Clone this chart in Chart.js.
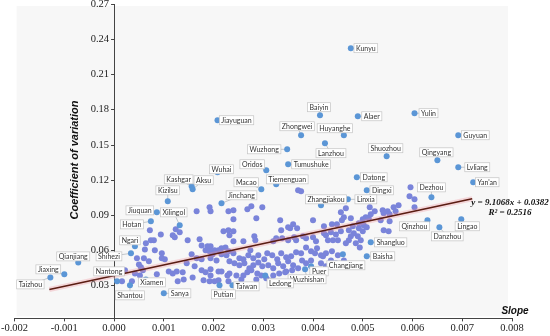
<!DOCTYPE html>
<html><head><meta charset="utf-8">
<script src="https://cdn.jsdelivr.net/npm/chart.js@4/dist/chart.umd.min.js"></script>
<style>html,body{margin:0;padding:0;background:#fff}#wrap{width:550px;height:336px}</style>
</head><body><div id="wrap"><canvas id="c"></canvas></div>
<script>
// ---- data ----
const xTicks = [-0.002,-0.001,0,0.001,0.002,0.003,0.004,0.005,0.006,0.007,0.008];
const yTicks = [0.03,0.06,0.09,0.12,0.15,0.18,0.21,0.24,0.27];
const cloudX = [0.00166,0.00192,0.00194,0.0023,0.00072,0.00094,0.00124,0.00132,0.00118,0.00122,0.00064,0.00074,0.0008,0.00062,0.00082,0.00046,0.0006,0.00096,0.00096,0.00102,0.0007,0.0005,0.00054,0.00172,0.00176,0.00188,0.00194,0.0022,0.0023,0.00232,0.00184,0.00192,0.00202,0.0021,0.00216,0.00224,0.00198,0.00216,0.00226,0.00166,0.00176,0.00194,0.00206,0.0011,0.00118,0.00126,0.00138,0.00158,0.00176,0.00184,0.00194,0.00194,0.0021,0.00216,0.00228,0.0021,0.0018,0.00192,0.00202,0.0023,0.00128,0.00094,0.00076,0.00036,0.00058,0.00042,0.00052,0.0014,
0.0024,0.00268,0.00276,0.00298,0.00286,0.0024,0.00334,0.00354,0.0035,0.0036,0.00368,0.004,0.00458,0.00462,0.00422,0.00438,0.00448,0.00476,0.0024,0.0024,0.0026,0.00282,0.00284,0.00274,0.0032,0.00326,0.00338,0.0035,0.00362,0.00366,0.0038,0.00386,0.004,0.00406,0.00422,0.00426,0.00436,0.00446,0.00456,0.0043,0.0044,0.0045,
0.0023,0.0024,0.00252,0.0026,0.0027,0.0028,0.0029,0.00302,0.00308,0.00318,0.00328,0.00336,0.00346,0.00356,0.00366,0.00376,0.00386,0.00396,0.00408,0.00416,0.00426,0.00438,0.0045,
0.00232,0.00242,0.00252,0.00262,0.00272,0.0028,0.0029,0.00298,0.0031,0.0032,0.0033,0.0034,0.0035,0.0036,0.0037,0.00386,0.00378,
0.00232,0.00246,0.0026,0.00268,0.00276,0.00288,0.00296,0.00306,0.0032,0.00332,0.00346,0.00358,0.00256,0.00286,
0.00404,0.0042,0.00396,0.00416,0.00436,0.00446,0.00426,0.00462,
0.0054,0.00596,0.00594,0.00604,0.00604,0.00572,0.00562,0.00566,0.0055,0.0054,0.00542,0.00554,0.00524,0.00514,0.00516,0.00506,0.005,0.00512,0.00536,0.00554,0.00542,0.00552,0.00492,0.00502,0.00508,0.005,0.00492,0.0048,0.00472,0.00482,0.00476,0.0049,0.00496,0.00486,0.00472,0.00466,0.00494,
0.0037,0.00376,0.00148,0.00156,0.00146,0.00162,0.00086,0.00022,0.00016,0.00456,0.00466,0.00336,0.00344];
const cloudY = [0.0931,0.0965,0.0931,0.0931,0.0769,0.0734,0.0777,0.0752,0.0726,0.0709,0.0658,0.0683,0.0683,0.0606,0.0598,0.053,0.053,0.0572,0.053,0.0521,0.0504,0.0478,0.0453,0.0692,0.064,0.0632,0.0632,0.076,0.0769,0.0726,0.0598,0.0589,0.0598,0.0598,0.0615,0.0623,0.0564,0.0564,0.0555,0.053,0.0521,0.053,0.0512,0.0418,0.0401,0.0418,0.041,0.0367,0.0427,0.041,0.0436,0.0384,0.0418,0.0418,0.0384,0.0342,0.0342,0.0333,0.0333,0.0333,0.0333,0.0333,0.0333,0.0333,0.0427,0.0401,0.0384,0.035,
0.0939,0.0948,0.0974,0.0965,0.0871,0.0863,0.0854,0.0786,0.0794,0.082,0.0786,0.0854,0.0854,0.088,0.0803,0.082,0.082,0.0871,0.076,0.0675,0.0675,0.0717,0.0683,0.0598,0.0675,0.07,0.07,0.0683,0.0709,0.0683,0.0717,0.07,0.0709,0.0675,0.0743,0.0726,0.0752,0.0734,0.076,0.0683,0.0683,0.0683,
0.0589,0.0572,0.053,0.0521,0.0555,0.053,0.0555,0.0521,0.0572,0.0555,0.0521,0.0572,0.0538,0.0547,0.0581,0.0572,0.0623,0.0589,0.0615,0.0555,0.0572,0.0589,0.0555,
0.0504,0.0487,0.047,0.0487,0.0444,0.047,0.0495,0.0461,0.047,0.0444,0.0487,0.0461,0.0504,0.047,0.0444,0.0487,0.0512,
0.0401,0.0384,0.0384,0.041,0.0427,0.0401,0.0384,0.0359,0.0384,0.0401,0.0418,0.0427,0.035,0.035,
0.0572,0.0547,0.0512,0.0487,0.0512,0.0487,0.0461,0.0512,
0.111,0.1136,0.1059,0.1033,0.0965,0.0982,0.0965,0.0931,0.0931,0.0939,0.0914,0.0905,0.0931,0.0965,0.0905,0.088,0.0863,0.0871,0.0854,0.0845,0.0769,0.076,0.0828,0.0811,0.0794,0.076,0.0786,0.0803,0.0769,0.0743,0.0717,0.0717,0.0683,0.0658,0.0683,0.0658,0.0623,
0.111,0.1102,0.0683,0.0564,0.0487,0.0461,0.0393,0.0427,0.0333,0.0922,0.0956,0.0769,0.041];
const cityNames = ['Kunyu','Baiyin','Alaer','Yulin','Guyuan','Zhongwei','Huyanghe','Lanzhou','Shuozhou','Qingyang','Lvliang','Wuzhong','Tumushuke','Jiayuguan','Oridos','Wuhai',"Yan'an",'Datong','Dingxi','Dezhou','Zhangjiakou','Linxia','Qinzhou','Danzhou','Lingao','Shangluo','Baisha','Changjiang','Puer','Wuzhishan','Ledong','Taiwan','Putian','Sanya','Xiamen','Shantou','Nantong','Taizhou','Jiaxing','Qianjiang','Shihezi','Ngari','Hotan','Jiuquan','Xilingol','Kizilsu','Kashgar','Aksu','Jinchang','Macao','Tiemenguan'];
const cityX = [0.00476,0.00414,0.0049,0.00604,0.00692,0.00376,0.00462,0.00424,0.00548,0.0065,0.00692,0.00348,0.0035,0.00208,0.00306,0.00208,0.00722,0.00488,0.00508,0.00638,0.00416,0.0047,0.0063,0.00654,0.00698,0.00516,0.00508,0.0046,0.00396,0.00384,0.00304,0.00238,0.00212,0.001,0.00064,0.00032,0.00006,-0.00128,-0.001,-0.00072,0.00034,0.00042,0.00074,0.00086,0.00132,0.00108,0.00156,0.00158,0.00216,0.00296,0.00326];
const cityY = [0.2323,0.1751,0.1742,0.1768,0.158,0.158,0.158,0.1512,0.1401,0.1366,0.1307,0.146,0.1332,0.1708,0.1281,0.1264,0.1179,0.1221,0.111,0.105,0.0982,0.1033,0.0854,0.0794,0.0863,0.0666,0.0547,0.0564,0.0461,0.0436,0.0384,0.0299,0.0299,0.0231,0.035,0.0299,0.0333,0.0367,0.0393,0.0495,0.0572,0.0632,0.0845,0.0922,0.0811,0.1016,0.1144,0.1119,0.0999,0.1119,0.1161];
const fitSlope = 9.1068, fitIntercept = 0.0382;
const fitRange = [-0.0013, 0.0072];

// ---- label placement (pixel offsets, styling only) ----
const labelDX = [15,-1,14,14,17,-4,-9,6,-1,-1,19,-23,23,19,-14,4,14,17,15,0,5,18,-13,8,6,20,16,3,8,2,15,14,4,16,6,0,-8,-20,-16,-5,-22,-5,-19,-17,-6,0,-13,11,20,-15,11];
const labelDY = [0,-8,0,0,0,-9,-7,10,-8,-8,0,0,0,0,-6,-3,0,0,0,-10,-6,0,6,9,7,0,0,11,5,10,8,1,9,0,3,10,-10,7,-5,-6,3,-6,3,-2,-13,-11,-7,-9,-8,-7,-5];

const cloud = cloudX.map((x,i)=>({x, y: cloudY[i]}));
const cities = cityX.map((x,i)=>({x, y: cityY[i]}));
const fit = fitRange.map(x=>({x, y: fitSlope*x + fitIntercept}));

const decor = {
  id:'decor',
  beforeDraw(chart){
    const {ctx, chartArea:a} = chart;
    ctx.save();
    ctx.fillStyle = '#f7f7f7';
    ctx.fillRect(a.left+2, a.top+2, a.right-a.left-6, a.bottom-a.top-4);
    ctx.restore();
  },
  beforeDatasetsDraw(chart){
    const ctx = chart.ctx;
    const meta = chart.getDatasetMeta(2);
    ctx.save();
    ctx.strokeStyle = '#a9b0b8';
    ctx.lineWidth = 0.7;
    meta.data.forEach((p,i)=>{
      ctx.beginPath();
      ctx.moveTo(p.x, p.y);
      ctx.lineTo(p.x + labelDX[i], p.y + labelDY[i]);
      ctx.stroke();
    });
    ctx.restore();
  },
  afterDraw(chart){
    // y tick labels and tick marks, left of the axis drawn at x = 0
    const ctx = chart.ctx;
    const xs = chart.scales.x, ys = chart.scales.y;
    const ax = xs.getPixelForValue(0);
    ctx.save();
    ctx.strokeStyle = '#444';
    ctx.lineWidth = 1;
    ctx.font = '10.5px "Liberation Serif"';
    ctx.fillStyle = '#222';
    ctx.textAlign = 'right';
    ctx.textBaseline = 'middle';
    yTicks.forEach(v => {
      const py = Math.round(ys.getPixelForValue(v)) + 0.5;
      ctx.beginPath(); ctx.moveTo(ax - 3, py); ctx.lineTo(ax, py); ctx.stroke();
      ctx.fillText(v.toFixed(2), ax - 5, py);
    });
    ctx.restore();
  },
  afterDatasetsDraw(chart){
    const ctx = chart.ctx;
    const meta = chart.getDatasetMeta(2);
    ctx.save();
    ctx.font = '7px Lato';
    ctx.textAlign = 'center';
    ctx.textBaseline = 'middle';
    meta.data.forEach((p,i)=>{
      const cx = p.x + labelDX[i], cy = p.y + labelDY[i];
      const w = ctx.measureText(cityNames[i]).width + 4, h = 9;
      ctx.fillStyle = '#ffffff';
      ctx.fillRect(cx - w/2, cy - h/2, w, h);
      ctx.strokeStyle = '#c4c4c4';
      ctx.lineWidth = 0.7;
      ctx.strokeRect(cx - w/2, cy - h/2, w, h);
      ctx.fillStyle = '#333';
      ctx.fillText(cityNames[i], cx, cy + 0.5);
    });
    ctx.fillStyle = '#111';
    ctx.font = 'italic bold 10px "Liberation Sans"';
    ctx.textAlign = 'center';
    ctx.fillText('Slope', 515, 311);
    ctx.save();
    ctx.translate(75, 160);
    ctx.rotate(-Math.PI/2);
    ctx.font = 'italic bold 11px "Liberation Sans"';
    ctx.fillText('Coefficient of variation', 0, 0);
    ctx.restore();
    ctx.font = 'italic bold 9px "Liberation Serif"';
    ctx.fillText('y = 9.1068x + 0.0382', 510, 203);
    ctx.fillText('R\u00b2 = 0.2516', 510, 213);
    ctx.restore();
  }
};

new Chart(document.getElementById('c'), {
  type: 'scatter',
  data: { datasets: [
    { type:'line', data: fit, borderColor:'#5a1c12', borderWidth:1.5, pointRadius:0, fill:false },
    { type:'line', data: fit, borderColor:'rgba(240,140,150,0.3)', borderWidth:5, pointRadius:0, fill:false },
    { data: cities, backgroundColor:'#5b96d6', borderWidth:0, pointRadius:3 },
    { data: cloud, backgroundColor:'#7a84da', borderWidth:0, pointRadius:3 }
  ]},
  options: {
    responsive:true, maintainAspectRatio:false, animation:false,
    layout:{ padding:{ left:0, right:38, top:4, bottom:0 } },
    plugins:{ legend:{display:false}, tooltip:{enabled:false} },
    scales:{
      x:{ type:'linear', position:'bottom', min:-0.002, max:0.008,
        afterBuildTicks: s => { s.ticks = xTicks.map(v=>({value:v})); },
        ticks:{ callback: v => v.toFixed(3), font:{family:'Liberation Serif', size:10.5}, color:'#222', padding:1, maxRotation:0, autoSkip:false },
        grid:{ display:true, drawOnChartArea:false, tickLength:3, color:'#444' },
        border:{ color:'#444', width:1 } },
      y:{ type:'linear', position:{x:0}, min:0.0017, max:0.27,
        afterBuildTicks: s => { s.ticks = yTicks.map(v=>({value:v})); },
        ticks:{ display:false },
        grid:{ display:false },
        border:{ color:'#444', width:1 } }
    }
  },
  plugins:[decor]
});
</script></body></html>
